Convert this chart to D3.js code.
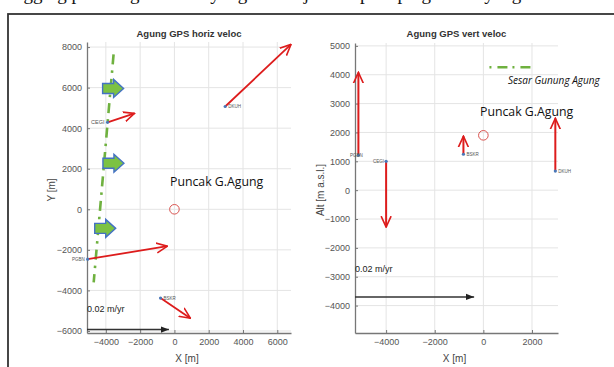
<!DOCTYPE html>
<html>
<head>
<meta charset="utf-8">
<script src="https://cdn.jsdelivr.net/npm/d3@7"></script>
<style>
  body { margin: 0; background: #fff; }
  svg { display: block; }
</style>
</head>
<body>
<div id="chart"></div>
<script>
// horizontal velocity panel: station, position (m), tip of velocity arrow (m)
const horizStations = ['DKUH', 'CEGI', 'PGBN', 'BSKR'];
const horizX = [2960, -3900, -5060, -810];
const horizY = [5070, 4290, -2460, -4380];
const horizTipX = [6800, -2330, -410, 930];
const horizTipY = [8130, 4730, -1820, -5370];

// vertical velocity panel: station, x (m), altitude (m), tip altitude (m)
const vertStations = ['PGBN', 'CEGI', 'BSKR', 'DKUH'];
const vertX = [-5140, -4000, -820, 2960];
const vertY = [1210, 1000, 1245, 660];
const vertTipY = [4080, -1280, 1870, 2490];

// fault trace (Sesar Gunung Agung) in horizontal panel
const faultX = [-3550, -4710];
const faultY = [7640, -3600];
// big green motion arrows (left end x, centre y)
const blockX = [-4190, -4170, -4650];
const blockY = [5960, 2270, -940];

// legend line in vertical panel
const legendX = [250, 2060];
const legendY = 4260;

const summit = { horiz: [0, 0], vert: [0, 1900] };

const xTicksL = [-4000, -2000, 0, 2000, 4000, 6000];
const yTicksL = [-6000, -4000, -2000, 0, 2000, 4000, 6000, 8000];
const xTicksR = [-4000, -2000, 0, 2000];
const yTicksR = [-4000, -3000, -2000, -1000, 0, 1000, 2000, 3000, 4000, 5000];

const svg = d3.select('#chart').append('svg')
  .attr('width', 614).attr('height', 367);

const defs = svg.append('defs');
defs.append('marker')
  .attr('id', 'redHead').attr('viewBox', '0 -6 12 12')
  .attr('refX', 11).attr('refY', 0)
  .attr('markerWidth', 12).attr('markerHeight', 12)
  .attr('markerUnits', 'userSpaceOnUse')
  .attr('orient', 'auto')
  .append('path').attr('d', 'M0,-5L11,0L0,5')
  .attr('fill', 'none').attr('stroke', '#dd1c1c').attr('stroke-width', 1.6);
defs.append('marker')
  .attr('id', 'blackHead').attr('viewBox', '0 -5 10 10')
  .attr('refX', 9).attr('refY', 0)
  .attr('markerWidth', 9).attr('markerHeight', 9)
  .attr('markerUnits', 'userSpaceOnUse')
  .attr('orient', 'auto')
  .append('path').attr('d', 'M0,-3.5L9,0L0,3.5Z').attr('fill', '#222');

// clipped line of the paper text above the figure (only descenders show)
svg.append('text')
  .attr('x', 14).attr('y', 0)
  .attr('font-family', 'Liberation Serif').attr('font-size', 19)
  .attr('fill', '#111')
  .text('ngging pada bagian barat yang menunjukkan pola pergeseran yang');

// figure frame
svg.append('rect')
  .attr('x', 8).attr('y', 14).attr('width', 640).attr('height', 400)
  .attr('fill', 'none').attr('stroke', '#333').attr('stroke-width', 1.8);

function drawPanel(cfg) {
  const g = svg.append('g');
  const x = d3.scaleLinear().domain(cfg.xDom).range(cfg.xRange);
  const y = d3.scaleLinear().domain(cfg.yDom).range(cfg.yRange);

  // grid
  g.append('g').selectAll('line').data(cfg.xTicks).join('line')
    .attr('x1', d => x(d)).attr('x2', d => x(d))
    .attr('y1', cfg.yRange[0]).attr('y2', cfg.yRange[1])
    .attr('stroke', '#e4e4e4').attr('stroke-width', 1);
  g.append('g').selectAll('line').data(cfg.yTicks).join('line')
    .attr('y1', d => y(d)).attr('y2', d => y(d))
    .attr('x1', cfg.xRange[0]).attr('x2', cfg.xRange[1])
    .attr('stroke', '#e4e4e4').attr('stroke-width', 1);

  const fmt = d3.format('d');
  const xAxis = g.append('g')
    .attr('transform', `translate(0,${cfg.yRange[0]})`)
    .call(d3.axisBottom(x).tickValues(cfg.xTicks).tickFormat(fmt)
      .tickSize(-3).tickSizeOuter(0).tickPadding(6));
  const yAxis = g.append('g')
    .attr('transform', `translate(${cfg.xRange[0]},0)`)
    .call(d3.axisLeft(y).tickValues(cfg.yTicks).tickFormat(fmt)
      .tickSize(-3).tickSizeOuter(0).tickPadding(5));
  [xAxis, yAxis].forEach(a => {
    a.select('.domain').attr('stroke', '#777').attr('stroke-width', 1.3);
    a.selectAll('.tick line').attr('stroke', '#777');
    a.selectAll('text').attr('fill', '#555')
      .attr('font-family', 'Liberation Sans').attr('font-size', 9);
  });

  g.append('text')
    .attr('x', (cfg.xRange[0] + cfg.xRange[1]) / 2).attr('y', 37)
    .attr('text-anchor', 'middle')
    .attr('font-family', 'Liberation Sans').attr('font-weight', 'bold')
    .attr('font-size', 9.5).attr('fill', '#333')
    .text(cfg.title);
  g.append('text')
    .attr('x', (cfg.xRange[0] + cfg.xRange[1]) / 2 - 2).attr('y', 362)
    .attr('text-anchor', 'middle')
    .attr('font-family', 'Liberation Sans').attr('font-size', 10).attr('fill', '#444')
    .text('X [m]');
  g.append('text')
    .attr('transform', `translate(${cfg.yLabelX},190) rotate(-90)`)
    .attr('text-anchor', 'middle')
    .attr('font-family', 'Liberation Sans').attr('font-size', 10).attr('fill', '#444')
    .text(cfg.yLabel);

  return { g, x, y };
}

// ---------- horizontal panel ----------
const L = drawPanel({
  xDom: [-5100, 6800], xRange: [87, 291],
  yDom: [-6100, 8250], yRange: [333, 42],
  xTicks: xTicksL, yTicks: yTicksL,
  title: 'Agung GPS horiz veloc', yLabel: 'Y [m]', yLabelX: 55
});

// fault trace
L.g.append('line')
  .attr('x1', L.x(faultX[0])).attr('y1', L.y(faultY[0]))
  .attr('x2', L.x(faultX[1])).attr('y2', L.y(faultY[1]))
  .attr('stroke', '#6fb13f').attr('stroke-width', 2.6)
  .attr('stroke-dasharray', '10,6,2.5,6');

// block arrows
L.g.append('g').selectAll('path').data(blockX).join('path')
  .attr('transform', (d, i) => `translate(${L.x(d)},${L.y(blockY[i])})`)
  .attr('d', 'M0,-5H11V-9L21,0L11,9V5H0Z')
  .attr('fill', '#7cc242').attr('stroke', '#4472c4').attr('stroke-width', 1.4);

// velocity vectors
L.g.append('g').selectAll('line').data(horizStations).join('line')
  .attr('x1', (d, i) => L.x(horizX[i])).attr('y1', (d, i) => L.y(horizY[i]))
  .attr('x2', (d, i) => L.x(horizTipX[i])).attr('y2', (d, i) => L.y(horizTipY[i]))
  .attr('stroke', '#dd1c1c').attr('stroke-width', 1.8)
  .attr('marker-end', 'url(#redHead)');
L.g.append('g').selectAll('circle').data(horizStations).join('circle')
  .attr('cx', (d, i) => L.x(horizX[i])).attr('cy', (d, i) => L.y(horizY[i]))
  .attr('r', 1.6).attr('fill', '#4a78b8');
L.g.append('g').selectAll('text').data(horizStations).join('text')
  .attr('x', (d, i) => L.x(horizX[i]) + (d === 'CEGI' || d === 'PGBN' ? -3 : 3))
  .attr('y', (d, i) => L.y(horizY[i]) + 1.5)
  .attr('text-anchor', d => (d === 'CEGI' || d === 'PGBN') ? 'end' : 'start')
  .attr('font-family', 'Liberation Sans').attr('font-size', d => d === 'CEGI' ? 5.5 : 4.5)
  .attr('fill', '#555')
  .text(d => d);

// summit
L.g.append('circle')
  .attr('cx', L.x(summit.horiz[0])).attr('cy', L.y(summit.horiz[1]))
  .attr('r', 4.8).attr('fill', 'none').attr('stroke', '#d9534f').attr('stroke-width', 1);
L.g.append('text')
  .attr('x', 170).attr('y', 186)
  .attr('font-family', 'Open Sans').attr('font-size', 12.3).attr('fill', '#111')
  .text('Puncak G.Agung');

// scale arrow
L.g.append('text').attr('x', 87).attr('y', 312)
  .attr('font-family', 'Liberation Sans').attr('font-size', 9).attr('fill', '#222')
  .text('0.02 m/yr');
L.g.append('line')
  .attr('x1', L.x(-5100)).attr('x2', L.x(-320))
  .attr('y1', L.y(-5930)).attr('y2', L.y(-5930))
  .attr('stroke', '#333').attr('stroke-width', 1.4)
  .attr('marker-end', 'url(#blackHead)');

// ---------- vertical panel ----------
const R = drawPanel({
  xDom: [-5280, 3070], xRange: [355, 558],
  yDom: [-4950, 5100], yRange: [333, 43],
  xTicks: xTicksR, yTicks: yTicksR,
  title: 'Agung GPS vert veloc', yLabel: 'Alt [m a.s.l.]', yLabelX: 324
});

R.g.append('g').selectAll('line').data(vertStations).join('line')
  .attr('x1', (d, i) => R.x(vertX[i])).attr('y1', (d, i) => R.y(vertY[i]))
  .attr('x2', (d, i) => R.x(vertX[i])).attr('y2', (d, i) => R.y(vertTipY[i]))
  .attr('stroke', '#dd1c1c').attr('stroke-width', 2)
  .attr('marker-end', 'url(#redHead)');
R.g.append('g').selectAll('circle').data(vertStations).join('circle')
  .attr('cx', (d, i) => R.x(vertX[i])).attr('cy', (d, i) => R.y(vertY[i]))
  .attr('r', 1.6).attr('fill', '#4a78b8');
R.g.append('g').selectAll('text').data(vertStations).join('text')
  .attr('x', (d, i) => R.x(vertX[i]) + (d === 'PGBN' || d === 'CEGI' ? -2 : 3))
  .attr('y', (d, i) => R.y(vertY[i]) + 1.5)
  .attr('text-anchor', d => d === 'PGBN' ? 'middle' : (d === 'CEGI' ? 'end' : 'start'))
  .attr('font-family', 'Liberation Sans').attr('font-size', 4.5)
  .attr('fill', '#555')
  .text(d => d);

R.g.append('circle')
  .attr('cx', R.x(summit.vert[0])).attr('cy', R.y(summit.vert[1]))
  .attr('r', 4.8).attr('fill', 'none').attr('stroke', '#d9534f').attr('stroke-width', 1);
R.g.append('text')
  .attr('x', 480).attr('y', 116)
  .attr('font-family', 'Open Sans').attr('font-size', 12.3).attr('fill', '#111')
  .text('Puncak G.Agung');

// fault legend
R.g.append('line')
  .attr('x1', R.x(legendX[0])).attr('x2', R.x(legendX[1]))
  .attr('y1', R.y(legendY)).attr('y2', R.y(legendY))
  .attr('stroke', '#6fb13f').attr('stroke-width', 2.6)
  .attr('stroke-dasharray', '2,6,10,5');
R.g.append('text')
  .attr('x', 508).attr('y', 84)
  .attr('font-family', 'Open Sans').attr('font-style', 'italic')
  .attr('font-size', 10).attr('fill', '#111')
  .text('Sesar Gunung Agung');

R.g.append('text').attr('x', 355).attr('y', 272)
  .attr('font-family', 'Liberation Sans').attr('font-size', 9).attr('fill', '#222')
  .text('0.02 m/yr');
R.g.append('line')
  .attr('x1', R.x(-5280)).attr('x2', R.x(-380))
  .attr('y1', R.y(-3700)).attr('y2', R.y(-3700))
  .attr('stroke', '#333').attr('stroke-width', 1.4)
  .attr('marker-end', 'url(#blackHead)');
</script>
</body>
</html>
